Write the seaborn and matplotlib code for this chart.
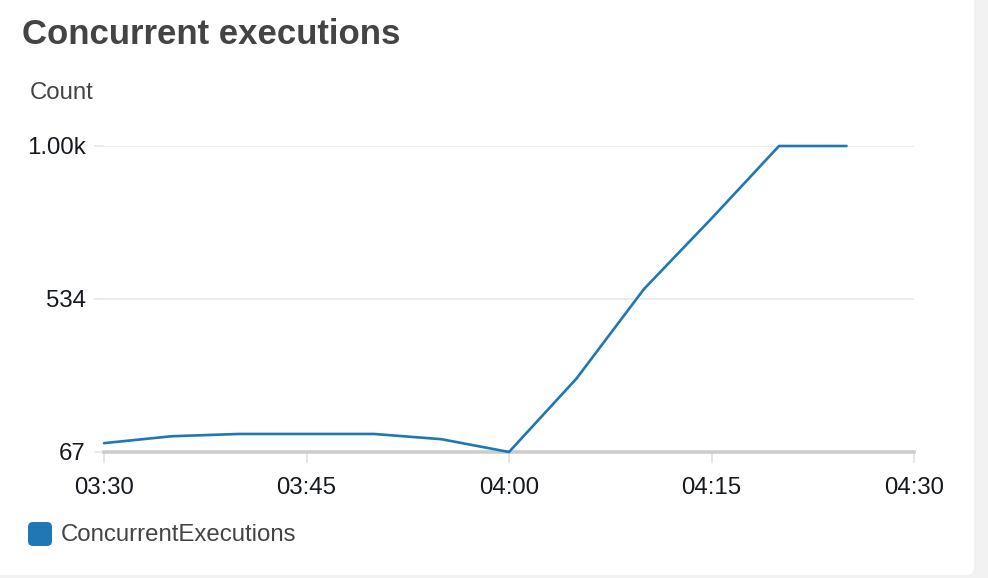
import matplotlib
matplotlib.use("Agg")
import matplotlib.pyplot as plt
from matplotlib.patches import FancyBboxPatch
import seaborn as sns
import pandas as pd

# ---- data ----
times = ["03:30", "03:35", "03:40", "03:45", "03:50", "03:55", "04:00",
         "04:05", "04:10", "04:15", "04:20", "04:25"]
values = [94, 115, 122, 122, 122, 106, 67, 291, 564, 779, 1000, 1000]
series_name = "ConcurrentExecutions"
y_ticks = [67, 534, 1000]
y_tick_labels = ["67", "534", "1.00k"]
x_tick_labels = ["03:30", "03:45", "04:00", "04:15", "04:30"]
title = "Concurrent executions"
y_label = "Count"

df = pd.DataFrame({
    "time": pd.to_datetime(["2024-01-01 " + t for t in times]),
    "value": values,
})

sns.set_theme(style="white")
plt.rcParams["font.family"] = ["Liberation Sans", "DejaVu Sans"]

W, H = 988, 578
fig = plt.figure(figsize=(W / 100, H / 100), dpi=100)
fig.patch.set_facecolor("#f2f2f2")

# white card
card = FancyBboxPatch((-0.3, (H - 575) / 100), 9.74 + 0.3, 6.5,
                      boxstyle="round,pad=0,rounding_size=0.08",
                      transform=fig.dpi_scale_trans, facecolor="white",
                      edgecolor="none", zorder=-5)
fig.patches.append(card)

x0, x1 = 104, 914
y_bot, y_top = 452, 146
ax = fig.add_axes([x0 / W, 1 - y_bot / H, (x1 - x0) / W, (y_bot - y_top) / H])
ax.set_facecolor("none")
ax.set_zorder(2)

fs = 17.3
line_color = "#1f77b4"
sns.lineplot(data=df, x="time", y="value", ax=ax, color=line_color,
             linewidth=1.9, legend=False, clip_on=False, zorder=5)

ax.set_ylim(67, 1000)
ax.set_xlim(pd.Timestamp("2024-01-01 03:30"), pd.Timestamp("2024-01-01 04:30"))
ax.set_yticks(y_ticks)
ax.set_yticklabels(y_tick_labels)
xt = pd.to_datetime(["2024-01-01 " + t for t in x_tick_labels])
ax.set_xticks(xt)
ax.set_xticklabels(x_tick_labels)

for s in ["top", "right", "left"]:
    ax.spines[s].set_visible(False)
ax.spines["bottom"].set_color("#cccccc")
ax.spines["bottom"].set_linewidth(2.6)
ax.spines["bottom"].set_zorder(4)

ax.grid(axis="y", color="#eaeaea", linewidth=1.2)
ax.grid(axis="x", visible=False)
ax.tick_params(axis="y", length=7, width=1.2, color="#e6e6e6", pad=6,
               labelsize=fs, labelcolor="#16191f", left=True)
ax.tick_params(axis="x", length=8, width=1.4, color="#e6e6e6", pad=10,
               labelsize=fs, labelcolor="#16191f", bottom=True, direction="out")
ax.set_xlabel("")
ax.set_ylabel("")

fig.text(22 / W, 1 - 34 / H, title, fontsize=25, fontweight="bold",
         color="#444444", va="center", ha="left")
fig.text(30 / W, 1 - 93 / H, y_label, fontsize=fs, color="#444444",
         va="center", ha="left")

# legend swatch (rounded square) and label, in pixel units
sw = FancyBboxPatch((28 / 100, (H - 546) / 100), 0.24, 0.24,
                    boxstyle="round,pad=0,rounding_size=0.05",
                    transform=fig.dpi_scale_trans, facecolor=line_color,
                    edgecolor="none")
fig.patches.append(sw)
fig.text(61 / W, 1 - 535 / H, series_name, fontsize=fs, color="#444444",
         va="center", ha="left")

fig.savefig("out.png", dpi=100, facecolor=fig.get_facecolor())
